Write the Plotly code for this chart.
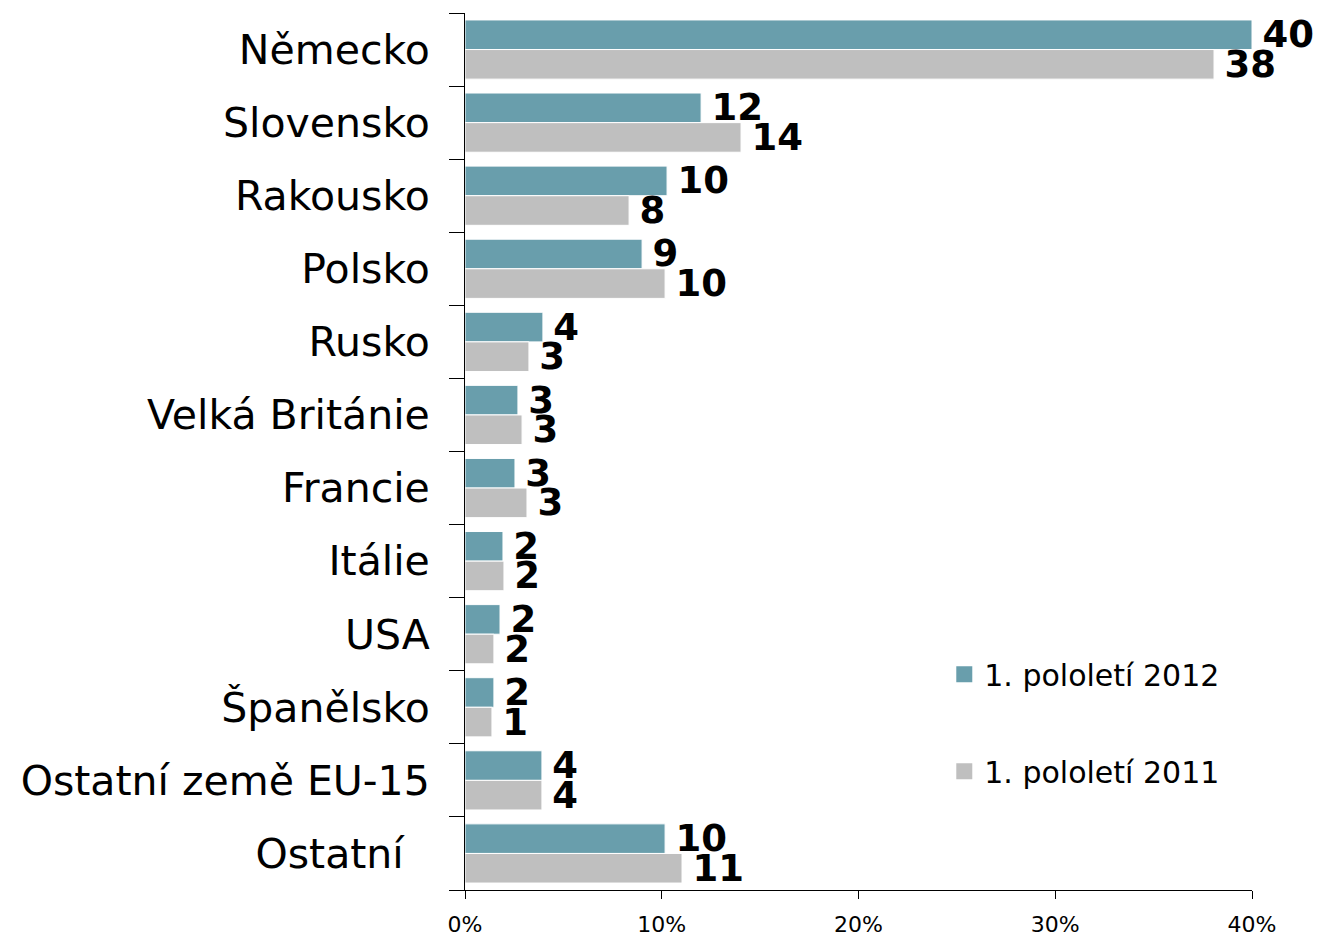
import plotly.graph_objects as go

categories = ["Německo", "Slovensko", "Rakousko", "Polsko", "Rusko", "Velká Británie",
              "Francie", "Itálie", "USA", "Španělsko", "Ostatní země EU-15", "Ostatní"]
tick_text = ["Německo", "Slovensko", "Rakousko", "Polsko", "Rusko", "Velká Británie",
             "Francie", "Itálie", "USA", "Španělsko", "Ostatní země EU-15", "Ostatní\u00a0\u00a0"]
values_2012 = [40.0, 12.0, 10.27, 9.0, 3.96, 2.69, 2.54, 1.93, 1.78, 1.47, 3.91, 10.17]
values_2011 = [38.07, 14.03, 8.34, 10.17, 3.25, 2.9, 3.15, 1.98, 1.47, 1.37, 3.91, 11.03]
labels_2012 = ["40", "12", "10", "9", "4", "3", "3", "2", "2", "2", "4", "10"]
labels_2011 = ["38", "14", "8", "10", "3", "3", "3", "2", "2", "1", "4", "11"]
series_names = ["1. pololetí 2012", "1. pololetí 2011"]
x_ticks = [0, 10, 20, 30, 40]

FONT = "DejaVu Sans"
TEAL = "#699EAC"
GRAY = "#BFBFBF"

fig = go.Figure()
for name, vals, labs, col in [(series_names[0], values_2012, labels_2012, TEAL),
                              (series_names[1], values_2011, labels_2011, GRAY)]:
    fig.add_trace(go.Bar(
        y=categories, x=vals, name=name, orientation="h",
        marker=dict(color=col, line=dict(color="white", width=1)),
        text=["\u2009" + t for t in labs], textposition="outside",
        textfont=dict(family=FONT, size=37, color="black", weight="bold"),
        constraintext="none", cliponaxis=False,
        showlegend=False,
    ))

# legend entries with larger square swatches
for name, col in [(series_names[0], TEAL), (series_names[1], GRAY)]:
    fig.add_trace(go.Scatter(
        x=[None], y=[None], mode="markers", name=name,
        marker=dict(symbol="square", size=17, color=col),
        legendgroup=name, showlegend=True,
    ))

fig.update_layout(
    width=1318, height=936,
    margin=dict(l=465, r=66, t=13, b=46, autoexpand=False),
    paper_bgcolor="white", plot_bgcolor="white",
    barmode="group", bargap=0.19, bargroupgap=0.0,
    font=dict(family=FONT, color="black"),
    showlegend=True,
    legend=dict(x=0.609, y=0.2757, xanchor="left", yanchor="top",
                font=dict(family=FONT, size=30, color="black"),
                tracegroupgap=55, bgcolor="rgba(0,0,0,0)"),
)
fig.update_xaxes(range=[0, 40], tickvals=x_ticks, ticktext=[f"{v}%" for v in x_ticks],
                 showgrid=False, zeroline=False, showline=True, linecolor="black", linewidth=1,
                 ticks="outside", ticklen=8, tickcolor="black", automargin=False,
                 ticklabelstandoff=7,
                 tickfont=dict(family=FONT, size=22, color="black"))
fig.update_yaxes(autorange="reversed", categoryorder="array", categoryarray=categories,
                 tickvals=categories, ticktext=tick_text, tickson="boundaries",
                 showgrid=False, showline=True, linecolor="black", linewidth=1,
                 ticks="outside", ticklen=15, tickcolor="black", ticklabelstandoff=26,
                 automargin=False,
                 tickfont=dict(family=FONT, size=41, color="black"))

fig.write_html("out.html", config={"displayModeBar": False},
               post_script="document.body.style.margin='0';document.body.style.overflow='hidden';")
